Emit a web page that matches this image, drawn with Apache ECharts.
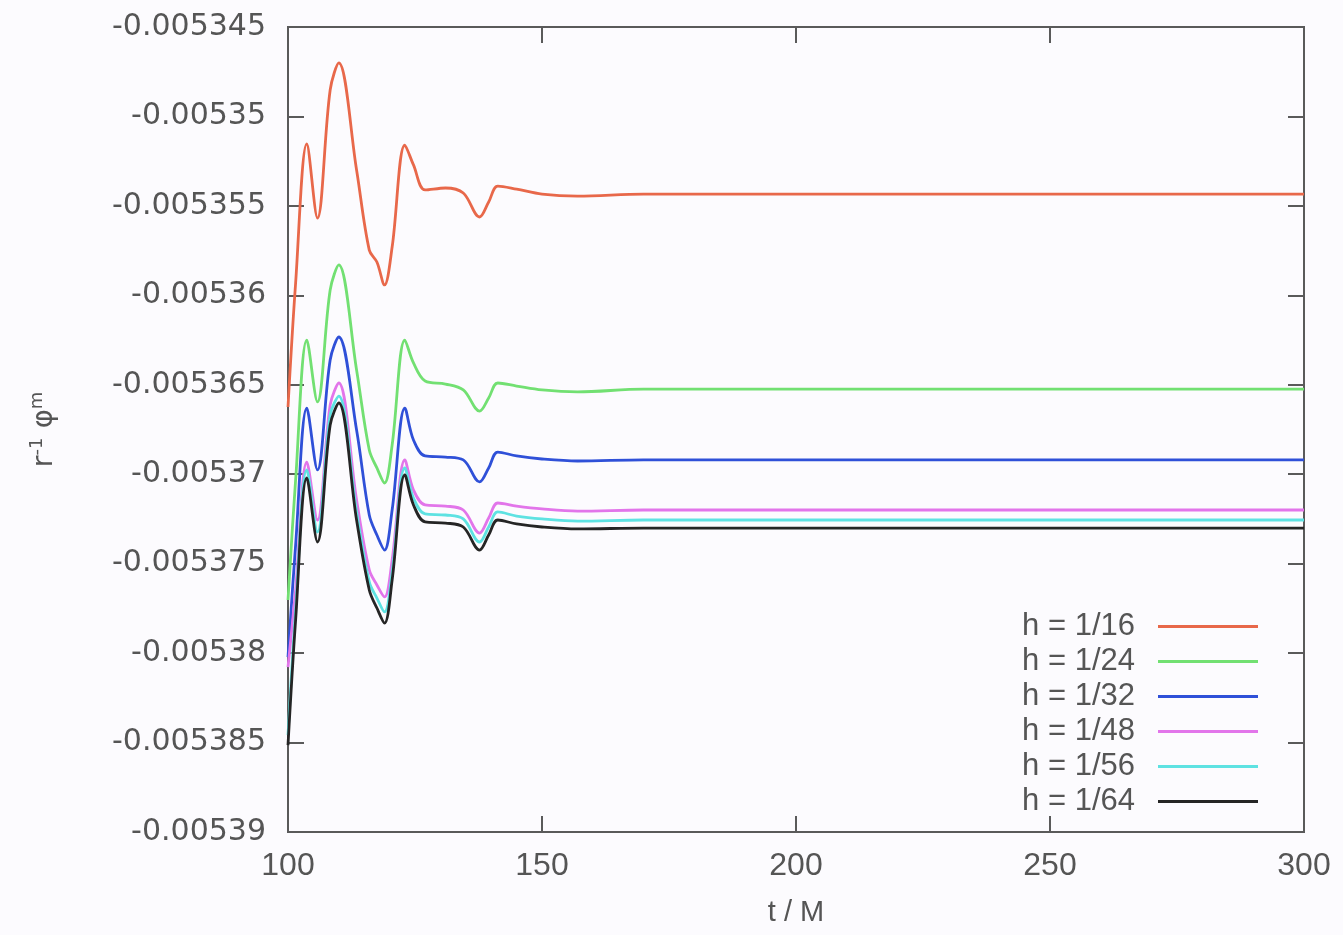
<!DOCTYPE html>
<html lang="en">
<head>
  <meta charset="UTF-8">
  <title>phi convergence</title>
  <style>
    html, body { margin: 0; padding: 0; background: #fcfbfe; }
    #chart { width: 1343px; height: 935px; }
  </style>
</head>
<body>
  <div id="chart"></div>
  <script src="https://cdn.jsdelivr.net/npm/echarts@6/dist/echarts.min.js"></script>
  <script>
    // time samples (t / M)
    const tData = [100, 101.5, 103.7, 105.8, 108.3, 110, 113.5, 116, 117.5, 119, 120.5, 123, 124.7, 127, 131, 134.5, 137.7, 139.5, 141.3, 145, 150, 157, 170, 300];

    // r^-1 phi^m per resolution
    const h16 = [-0.00536624, -0.00535931, -0.00535154, -0.00535568, -0.00534852, -0.00534701, -0.00535299, -0.00535747, -0.00535814, -0.00535942, -0.0053573, -0.0053516, -0.00535271, -0.00535411, -0.005354, -0.00535428, -0.00535562, -0.00535478, -0.00535389, -0.00535406, -0.00535434, -0.00535445, -0.00535434, -0.00535434];
    const h24 = [-0.00537703, -0.00537032, -0.0053625, -0.00536596, -0.0053597, -0.0053583, -0.00536417, -0.00536865, -0.00536965, -0.00537049, -0.00536837, -0.0053625, -0.00536378, -0.00536479, -0.00536496, -0.00536529, -0.00536647, -0.00536574, -0.0053649, -0.00536507, -0.00536529, -0.0053654, -0.00536524, -0.00536524];
    const h32 = [-0.00538022, -0.00537396, -0.0053663, -0.00536976, -0.00536361, -0.00536233, -0.00536753, -0.00537228, -0.0053734, -0.00537424, -0.005372, -0.0053663, -0.00536809, -0.00536898, -0.00536904, -0.0053692, -0.00537043, -0.00536965, -0.00536876, -0.00536898, -0.00536915, -0.00536926, -0.0053692, -0.0053692];
    const h48 = [-0.00538078, -0.00537647, -0.00536932, -0.00537256, -0.00536613, -0.0053649, -0.00537144, -0.00537535, -0.00537619, -0.00537686, -0.00537479, -0.0053692, -0.00537088, -0.00537172, -0.00537178, -0.005372, -0.00537329, -0.00537245, -0.00537161, -0.00537178, -0.00537194, -0.00537206, -0.005372, -0.005372];
    const h56 = [-0.00538458, -0.00537759, -0.00536976, -0.00537323, -0.00536669, -0.00536563, -0.00537211, -0.00537602, -0.00537692, -0.0053777, -0.00537547, -0.00536965, -0.00537133, -0.00537222, -0.00537228, -0.0053725, -0.00537379, -0.00537295, -0.00537211, -0.00537234, -0.0053725, -0.00537262, -0.00537256, -0.00537256];
    const h64 = [-0.00538514, -0.00537815, -0.00537021, -0.00537379, -0.00536725, -0.00536602, -0.00537256, -0.00537647, -0.00537748, -0.00537832, -0.00537591, -0.00537004, -0.00537172, -0.00537267, -0.00537273, -0.00537295, -0.00537424, -0.0053734, -0.00537256, -0.00537278, -0.00537295, -0.00537306, -0.00537301, -0.00537301];

    const seriesNames = ['h = 1/16', 'h = 1/24', 'h = 1/32', 'h = 1/48', 'h = 1/56', 'h = 1/64'];
    const seriesValues = [h16, h24, h32, h48, h56, h64];
    const seriesColors = ['#e8684a', '#72e072', '#2f50d8', '#e275ea', '#5ee2e2', '#252525'];

    const axisColor = '#5a5a5a';
    const labelColor = '#555';

    let chart = echarts.init(document.getElementById('chart'));

    let series = seriesNames.map(function (name, i) {
      return {
        name: name,
        type: 'line',
        data: tData.map(function (t, k) { return [t, seriesValues[i][k]]; }),
        smooth: 0.35,
        showSymbol: false,
        symbol: 'none',
        lineStyle: { color: seriesColors[i], width: 2.8 },
        itemStyle: { color: seriesColors[i] },
        animation: false
      };
    });

    let fmtY = function (v) { return String(Number(v.toPrecision(6))); };

    let option = {
      backgroundColor: '#fcfbfe',
      animation: false,
      grid: {
        left: 288, right: 39, top: 27, bottom: 103,
        show: true, borderColor: axisColor, borderWidth: 2, backgroundColor: 'transparent'
      },
      legend: {
        orient: 'vertical',
        right: 80,
        top: 604,
        align: 'right',
        icon: 'rect',
        itemWidth: 100,
        itemHeight: 3,
        itemGap: 0,
        data: seriesNames,
        textStyle: {
          fontFamily: 'Liberation Sans',
          fontSize: 31,
          color: labelColor,
          lineHeight: 35,
          padding: [0, 18, 0, 0]
        }
      },
      xAxis: [{
        type: 'value',
        min: 100, max: 300, interval: 50,
        name: 't / M',
        nameLocation: 'middle',
        nameGap: 66,
        nameTextStyle: { fontFamily: 'Liberation Sans', fontSize: 29, color: labelColor },
        axisLine: { lineStyle: { color: axisColor, width: 2 } },
        axisTick: { inside: true, length: 16, lineStyle: { color: axisColor, width: 2 } },
        axisLabel: { margin: 18, fontFamily: 'Liberation Sans', fontSize: 32, color: labelColor },
        splitLine: { show: false }
      }, {
        type: 'value', position: 'top',
        min: 100, max: 300, interval: 50,
        axisLine: { lineStyle: { color: axisColor, width: 2 } },
        axisTick: { inside: true, length: 16, lineStyle: { color: axisColor, width: 2 } },
        axisLabel: { show: false },
        splitLine: { show: false }
      }],
      yAxis: [{
        type: 'value',
        min: -0.00539, max: -0.005345, interval: 0.000005,
        name: 'r{sup|-1} φ{sup|m}',
        nameLocation: 'middle',
        nameRotate: 90,
        nameGap: 228,
        nameTextStyle: {
          fontFamily: 'DejaVu Sans', fontSize: 29, color: labelColor,
          rich: {
            sup: { fontFamily: 'DejaVu Sans', fontSize: 18, color: labelColor, verticalAlign: 'top', padding: [0, 0, 14, 0] }
          }
        },
        axisLine: { lineStyle: { color: axisColor, width: 2 } },
        axisTick: { inside: true, length: 16, lineStyle: { color: axisColor, width: 2 } },
        axisLabel: { margin: 22, fontFamily: 'DejaVu Sans', fontSize: 30, color: labelColor, formatter: fmtY },
        splitLine: { show: false }
      }, {
        type: 'value', position: 'right',
        min: -0.00539, max: -0.005345, interval: 0.000005,
        axisLine: { lineStyle: { color: axisColor, width: 2 } },
        axisTick: { inside: true, length: 16, lineStyle: { color: axisColor, width: 2 } },
        axisLabel: { show: false },
        splitLine: { show: false }
      }],
      series: series
    };

    chart.setOption(option);
  </script>
</body>
</html>
